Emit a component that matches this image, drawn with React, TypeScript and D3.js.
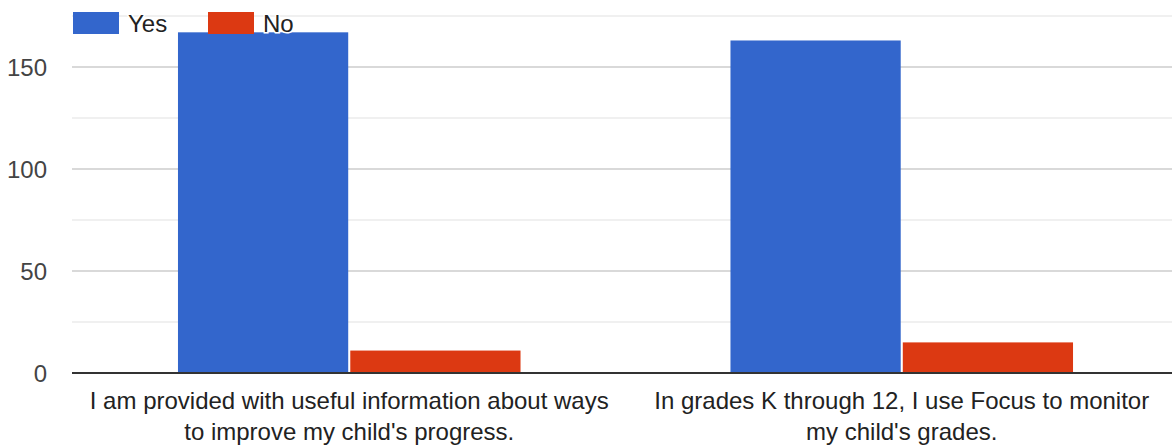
import React from "react";
import * as d3 from "d3";

const categories: string[][] = [
  ["I am provided with useful information about ways", "to improve my child's progress."],
  ["In grades K through 12, I use Focus to monitor", "my child's grades."],
];
const seriesNames = ["Yes", "No"];
const yesValues = [167, 163];
const noValues = [11, 15];
const yTicks = [0, 50, 100, 150];
const yMinorTicks = [25, 75, 125, 175];
const colors = ["#3366cc", "#dc3912"];

const W = 1172;
const H = 447;
const FONT = "Arial, 'Liberation Sans', sans-serif";

export default function App() {
  const left = 73;
  const right = 1178;
  const y = d3.scaleLinear().domain([0, 175]).range([373, 16]);
  const x0 = d3
    .scaleBand<number>()
    .domain(categories.map((_, i) => i))
    .range([left, right])
    .paddingInner(0.38)
    .paddingOuter(0.19);
  const x1 = d3
    .scaleBand<string>()
    .domain(seriesNames)
    .range([0, x0.bandwidth()])
    .paddingInner(0.012);
  const values = [yesValues, noValues];

  return (
    <div style={{ position: "absolute", left: 0, top: 0 }}>
      <svg width={W} height={H} style={{ display: "block", fontFamily: FONT }}>
        <rect width={W} height={H} fill="#fff" />
        {yMinorTicks.map((t) => (
          <line key={"m" + t} x1={72} x2={W} y1={y(t)} y2={y(t)} stroke="#ebebeb" strokeWidth={1.5} />
        ))}
        {yTicks.filter((t) => t > 0).map((t) => (
          <line key={"g" + t} x1={72} x2={W} y1={y(t)} y2={y(t)} stroke="#cccccc" strokeWidth={1.5} />
        ))}
        {yTicks.map((t) => (
          <text key={"t" + t} x={47} y={y(t)} dy="0.36em" textAnchor="end" fontSize={24} fill="#444">
            {t}
          </text>
        ))}
        {categories.map((_, ci) =>
          seriesNames.map((s, si) => (
            <rect
              key={ci + s}
              x={(x0(ci) as number) + (x1(s) as number)}
              y={y(values[si][ci])}
              width={x1.bandwidth()}
              height={y(0) - y(values[si][ci])}
              fill={colors[si]}
            />
          ))
        )}
        <line x1={72} x2={W} y1={y(0)} y2={y(0)} stroke="#333" strokeWidth={2} />
        {categories.map((lines, ci) => (
          <text
            key={"c" + ci}
            x={(x0(ci) as number) + x0.bandwidth() / 2}
            textAnchor="middle"
            fontSize={24}
            fill="#222"
          >
            {lines.map((l, li) => (
              <tspan key={li} x={(x0(ci) as number) + x0.bandwidth() / 2} y={409 + li * 31}>
                {l}
              </tspan>
            ))}
          </text>
        ))}
        {seriesNames.map((s, i) => (
          <g key={"l" + s} transform={`translate(${73 + i * 135},12)`}>
            <rect width={46} height={22} fill={colors[i]} />
            <text
              x={55}
              y={11}
              dy="0.36em"
              fontSize={24}
              fill="#222"
              stroke="#fff"
              strokeWidth={3}
              paintOrder="stroke"
            >
              {s}
            </text>
          </g>
        ))}
      </svg>
    </div>
  );
}
